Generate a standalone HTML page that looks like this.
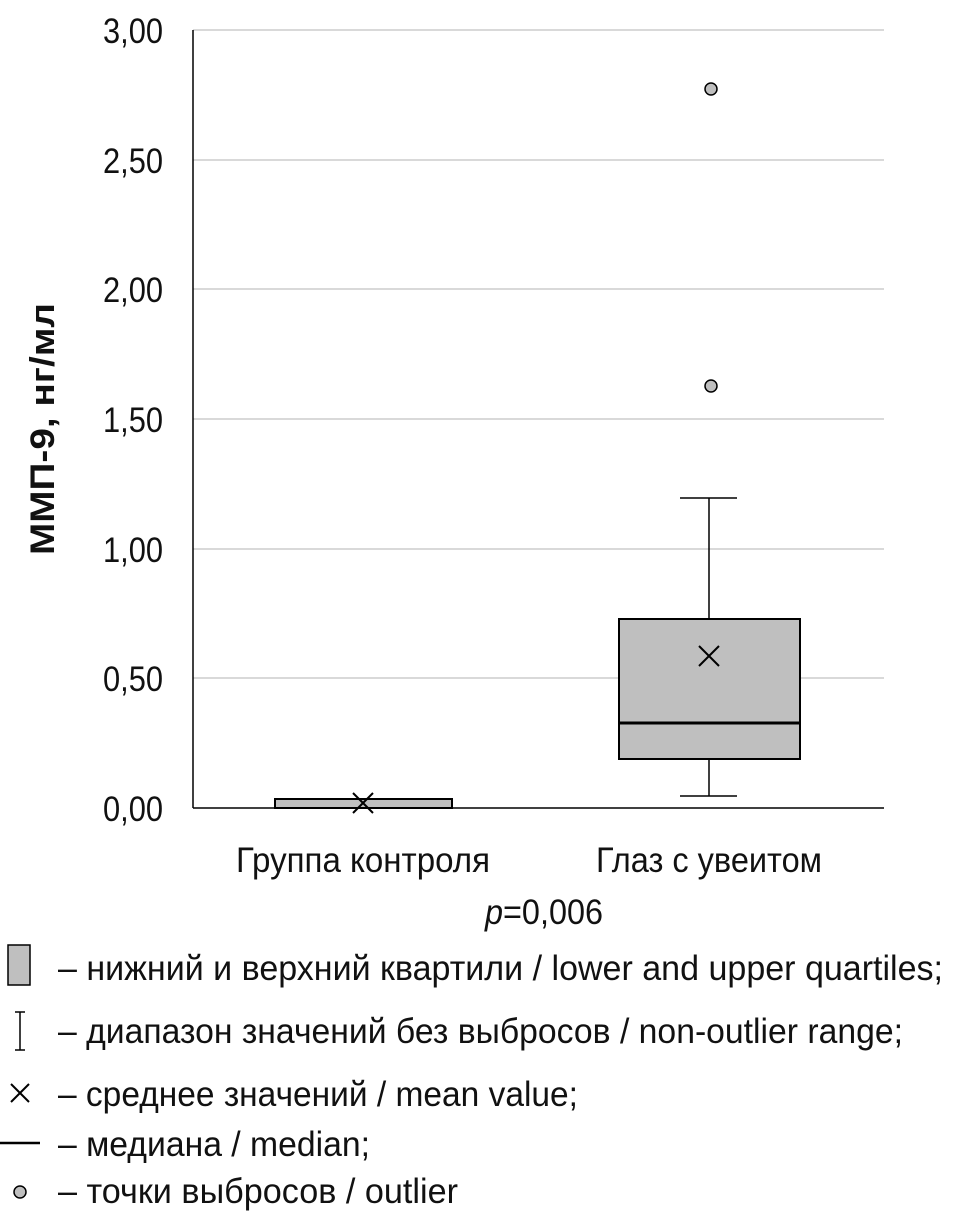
<!DOCTYPE html>
<html><head><meta charset="utf-8"><style>
html,body{margin:0;padding:0;background:#fff;}
svg{display:block;}
text{font-family:"Liberation Sans",sans-serif;fill:#111;}
</style></head><body>
<svg width="955" height="1226" viewBox="0 0 955 1226" xmlns="http://www.w3.org/2000/svg">
<g stroke="#d9d9d9" stroke-width="2">
<line x1="193" y1="30" x2="884" y2="30"/>
<line x1="193" y1="160" x2="884" y2="160"/>
<line x1="193" y1="289" x2="884" y2="289"/>
<line x1="193" y1="419" x2="884" y2="419"/>
<line x1="193" y1="549" x2="884" y2="549"/>
<line x1="193" y1="678" x2="884" y2="678"/>
</g>
<line x1="193" y1="30" x2="193" y2="808" stroke="#000" stroke-width="1.5"/>
<line x1="193" y1="808" x2="884" y2="808" stroke="#000" stroke-width="1.5"/>
<g font-size="35" text-anchor="end">
<text x="163" y="43" textLength="60" lengthAdjust="spacingAndGlyphs">3,00</text>
<text x="163" y="173" textLength="60" lengthAdjust="spacingAndGlyphs">2,50</text>
<text x="163" y="302" textLength="60" lengthAdjust="spacingAndGlyphs">2,00</text>
<text x="163" y="432" textLength="60" lengthAdjust="spacingAndGlyphs">1,50</text>
<text x="163" y="562" textLength="60" lengthAdjust="spacingAndGlyphs">1,00</text>
<text x="163" y="691" textLength="60" lengthAdjust="spacingAndGlyphs">0,50</text>
<text x="163" y="821" textLength="60" lengthAdjust="spacingAndGlyphs">0,00</text>
</g>
<text transform="translate(54,429) rotate(-90)" font-size="34" font-weight="bold" text-anchor="middle" textLength="252" lengthAdjust="spacingAndGlyphs">ММП-9, нг/мл</text>
<rect x="275" y="799" width="177" height="9" fill="#bfbfbf" stroke="#000" stroke-width="2"/>
<path d="M353 793 L373 813 M373 793 L353 813" stroke="#000" stroke-width="2"/>
<line x1="709" y1="498" x2="709" y2="619" stroke="#000" stroke-width="1.5"/>
<line x1="709" y1="759" x2="709" y2="796" stroke="#000" stroke-width="1.5"/>
<line x1="680" y1="498" x2="737" y2="498" stroke="#000" stroke-width="1.5"/>
<line x1="680" y1="796" x2="737" y2="796" stroke="#000" stroke-width="1.5"/>
<rect x="619" y="619" width="181" height="140" fill="#bfbfbf" stroke="#000" stroke-width="2"/>
<line x1="619" y1="723" x2="800" y2="723" stroke="#000" stroke-width="3"/>
<path d="M699 646 L719 666 M719 646 L699 666" stroke="#000" stroke-width="2"/>
<circle cx="711" cy="89" r="6" fill="#bfbfbf" stroke="#000" stroke-width="1.5"/>
<circle cx="711" cy="386" r="6" fill="#bfbfbf" stroke="#000" stroke-width="1.5"/>
<g font-size="35">
<text x="236" y="872" textLength="254" lengthAdjust="spacingAndGlyphs">Группа контроля</text>
<text x="596" y="872" textLength="226" lengthAdjust="spacingAndGlyphs">Глаз с увеитом</text>
<text x="485" y="924" textLength="118" lengthAdjust="spacingAndGlyphs"><tspan font-style="italic">p</tspan>=0,006</text>
<text x="58" y="980" textLength="885" lengthAdjust="spacingAndGlyphs">– нижний и верхний квартили / lower and upper quartiles;</text>
<text x="58" y="1043" textLength="845" lengthAdjust="spacingAndGlyphs">– диапазон значений без выбросов / non-outlier range;</text>
<text x="58" y="1106" textLength="520" lengthAdjust="spacingAndGlyphs">– среднее значений / mean value;</text>
<text x="58" y="1156" textLength="312" lengthAdjust="spacingAndGlyphs">– медиана / median;</text>
<text x="58" y="1203" textLength="400" lengthAdjust="spacingAndGlyphs">– точки выбросов / outlier</text>
</g>
<rect x="8" y="945" width="22" height="40" fill="#bfbfbf" stroke="#000" stroke-width="1.5"/>
<path d="M20 1012 V1050 M15 1012 H25 M15 1050 H25" stroke="#000" stroke-width="1.5"/>
<path d="M11 1084 L29 1102 M29 1084 L11 1102" stroke="#000" stroke-width="2"/>
<line x1="0" y1="1143" x2="40" y2="1143" stroke="#000" stroke-width="2.5"/>
<circle cx="20" cy="1192" r="6" fill="#bfbfbf" stroke="#000" stroke-width="1.5"/>
</svg>
</body></html>
